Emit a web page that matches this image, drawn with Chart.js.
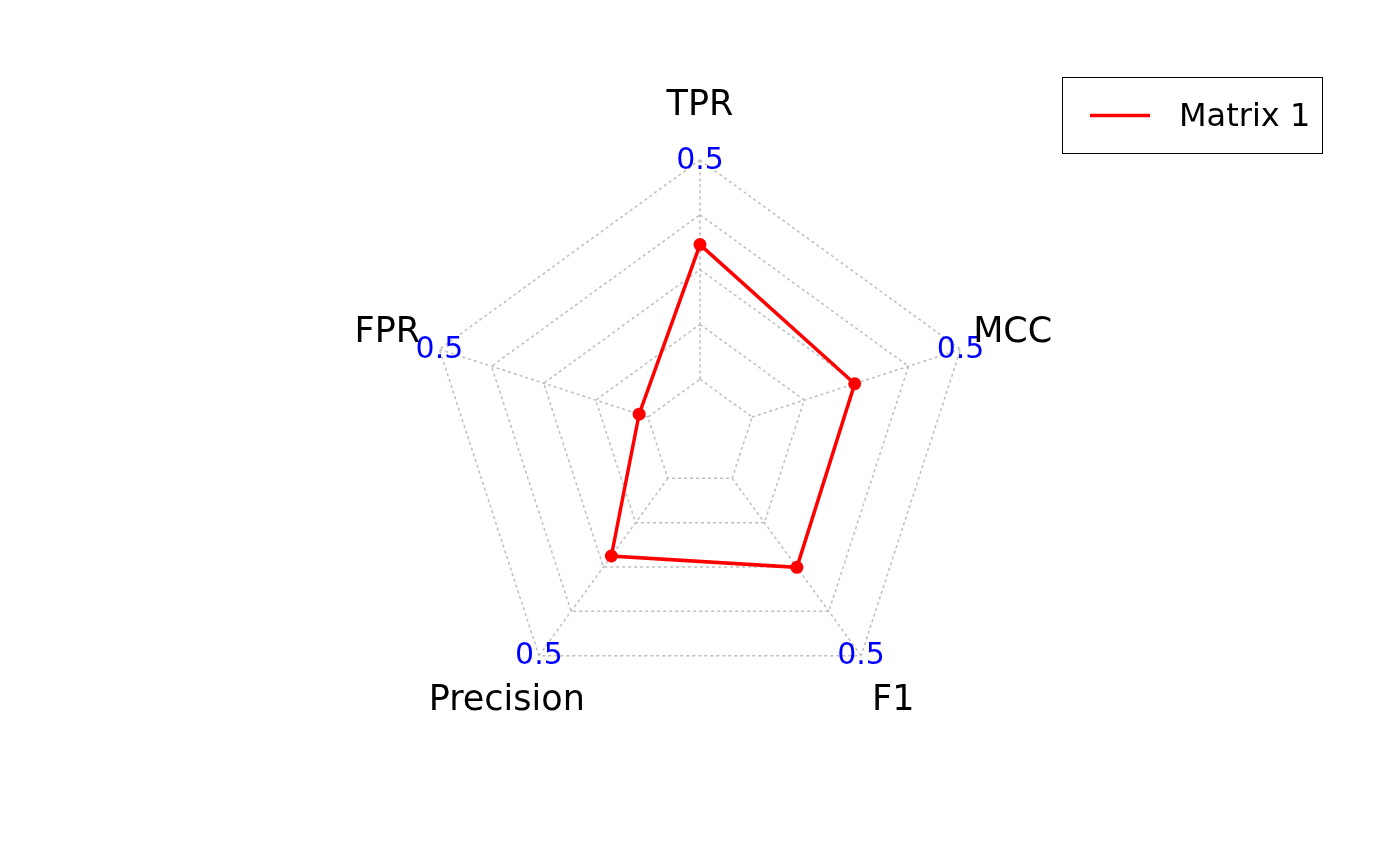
<!DOCTYPE html>
<html>
<head>
<meta charset="utf-8">
<script src="https://cdn.jsdelivr.net/npm/chart.js@4"></script>
<style>
  body { margin: 0; background: #fff; }
  canvas { display: block; }
</style>
</head>
<body>
<canvas id="myChart" width="1400" height="865"></canvas>
<script>
// axes, clockwise from the top
const axes = ['TPR', 'MCC', 'F1', 'Precision', 'FPR'];
const matrix1 = [0.307, 0.246, 0.251, 0.219, 0.021];
const axisMax = 0.5;
const axisMin = 0;
const maxLabels = ['0.5', '0.5', '0.5', '0.5', '0.5'];
const seriesName = 'Matrix 1';

const FONT = 'DejaVu Sans';
const GRID = '#bebebe';
const step = (axisMax - axisMin) / 4;

// spokes start at the innermost ring, like fmsb
const spokes = {
  id: 'spokes',
  beforeDatasetsDraw(chart) {
    const s = chart.scales.r;
    const ctx = chart.ctx;
    const r0 = s.getDistanceFromCenterForValue(axisMin);
    const r1 = s.getDistanceFromCenterForValue(axisMax);
    ctx.save();
    ctx.strokeStyle = GRID;
    ctx.lineWidth = 1.5;
    ctx.setLineDash([3, 3]);
    axes.forEach((a, i) => {
      const p0 = s.getPointPosition(i, r0);
      const p1 = s.getPointPosition(i, r1);
      ctx.beginPath();
      ctx.moveTo(p0.x, p0.y);
      ctx.lineTo(p1.x, p1.y);
      ctx.stroke();
    });
    ctx.restore();
  }
};

const labels = {
  id: 'labels',
  afterDraw(chart) {
    const s = chart.scales.r;
    const ctx = chart.ctx;
    const rMax = s.getDistanceFromCenterForValue(axisMax);
    ctx.save();
    ctx.textAlign = 'center';
    ctx.textBaseline = 'middle';
    // axis max values
    ctx.fillStyle = '#0000ff';
    ctx.font = '30px "' + FONT + '"';
    maxLabels.forEach((t, i) => {
      const p = s.getPointPosition(i, rMax);
      ctx.fillText(t, p.x, p.y + 1);
    });
    // variable names
    ctx.fillStyle = '#000';
    ctx.font = '35px "' + FONT + '"';
    axes.forEach((t, i) => {
      const p = s.getPointPosition(i, rMax * 1.2);
      ctx.fillText(t, p.x, p.y + 1);
    });

    // legend box
    ctx.strokeStyle = '#000';
    ctx.lineWidth = 1;
    ctx.setLineDash([]);
    ctx.strokeRect(1062.5, 77.5, 260, 76);
    ctx.strokeStyle = 'red';
    ctx.lineWidth = 3.5;
    ctx.beginPath();
    ctx.moveTo(1090, 115.5);
    ctx.lineTo(1150, 115.5);
    ctx.stroke();
    ctx.fillStyle = '#000';
    ctx.textAlign = 'left';
    ctx.font = '32px "' + FONT + '"';
    ctx.fillText(seriesName, 1179, 118);
    ctx.restore();
  }
};

const ctx = document.getElementById('myChart').getContext('2d');
new Chart(ctx, {
  type: 'radar',
  data: {
    labels: axes,
    datasets: [{
      label: seriesName,
      data: matrix1,
      fill: false,
      borderColor: 'red',
      borderWidth: 3.5,
      pointRadius: 6.5,
      pointBackgroundColor: 'red',
      pointBorderColor: 'red',
      pointBorderWidth: 0,
      pointHoverRadius: 6.5
    }]
  },
  options: {
    responsive: false,
    devicePixelRatio: 1,
    animation: false,
    events: [],
    layout: { padding: { top: 160, bottom: 157, left: 400, right: 400 } },
    plugins: { legend: { display: false }, tooltip: { enabled: false } },
    elements: { line: { tension: 0 } },
    scales: {
      r: {
        min: axisMin - step,
        max: axisMax,
        ticks: { display: false, stepSize: step },
        pointLabels: { display: false },
        angleLines: { display: false },
        grid: { color: GRID, lineWidth: 1.5 },
        border: { dash: [3, 3] }
      }
    }
  },
  plugins: [spokes, labels]
});
</script>
</body>
</html>
